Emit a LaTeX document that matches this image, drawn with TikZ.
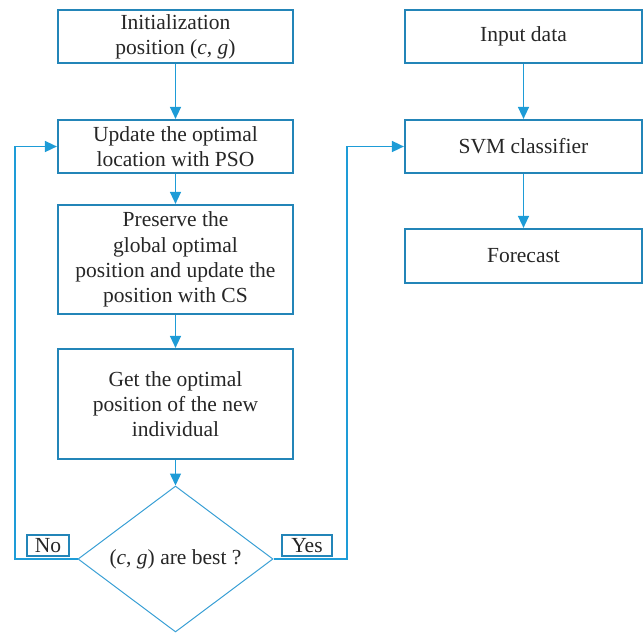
\documentclass[tikz,border=0pt]{standalone}
\usepackage{fontspec}
\setmainfont{Liberation Serif}
\usetikzlibrary{shapes.geometric,arrows.meta}
\definecolor{boxblue}{HTML}{2385B8}
\definecolor{arrblue}{HTML}{1E9CD7}
\definecolor{diablue}{HTML}{3AA0D5}
\begin{document}
\begin{tikzpicture}[x=1pt,y=-1pt,
  box/.style={draw=boxblue,line width=2.2pt,minimum width=235pt,inner sep=2pt,align=center,
    font=\fontsize{21.5}{25.3}\selectfont,text=black!85},
  lbl/.style={draw=boxblue,line width=2.2pt,inner sep=0pt,font=\fontsize{21.5}{25.3}\selectfont,text=black!85},
  conn/.style={draw=arrblue,line width=1.4pt,-{Triangle[length=12pt,width=11pt]}},
  loop/.style={draw=arrblue,line width=1.6pt,-{Triangle[length=12pt,width=11pt]}}]
\useasboundingbox (0,0) rectangle (643,633);
\node[box,minimum height=53pt] (init) at (175.5,36.5) {Initialization\\position (\textit{c}, \textit{g})};
\node[box,minimum height=53pt] (pso) at (175.5,146.5) {Update the optimal\\location with PSO};
\node[box,minimum height=109pt] (cs) at (175.5,259.5) {Preserve the\\global optimal\\position and update the\\position with CS};
\node[box,minimum height=110pt] (get) at (175.5,404) {Get the optimal\\position of the new\\individual};
\node[draw=diablue,line width=1pt,shape=diamond,minimum width=195pt,minimum height=146pt,inner sep=0pt,
  aspect=1.34,font=\fontsize{21.5}{25.3}\selectfont,text=black!85] (dec) at (175.5,559) {(\textit{c}, \textit{g}) are best ?};
\node[lbl,minimum width=42pt,minimum height=21pt] (no) at (48,545.5) {No};
\node[lbl,minimum width=50pt,minimum height=21pt] (yes) at (307,545.5) {Yes};
\node[box,minimum width=237pt,minimum height=53pt] (input) at (523.5,36.5) {Input data};
\node[box,minimum width=237pt,minimum height=53pt] (svm) at (523.5,146.5) {SVM classifier};
\node[box,minimum width=237pt,minimum height=54pt] (fc) at (523.5,256) {Forecast};
\coordinate (lx) at (15,559);
\coordinate (rx) at (347,559);
\draw[conn] (init) -- (pso);
\draw[conn] (pso) -- (cs);
\draw[conn] (cs) -- (get);
\draw[conn] (get) -- (dec);
\draw[conn] (input) -- (svm);
\draw[conn] (svm) -- (fc);
\draw[loop] (dec.west) -- (lx) |- (pso.west);
\draw[loop] (dec.east) -- (rx) |- (svm.west);
\end{tikzpicture}
\end{document}
